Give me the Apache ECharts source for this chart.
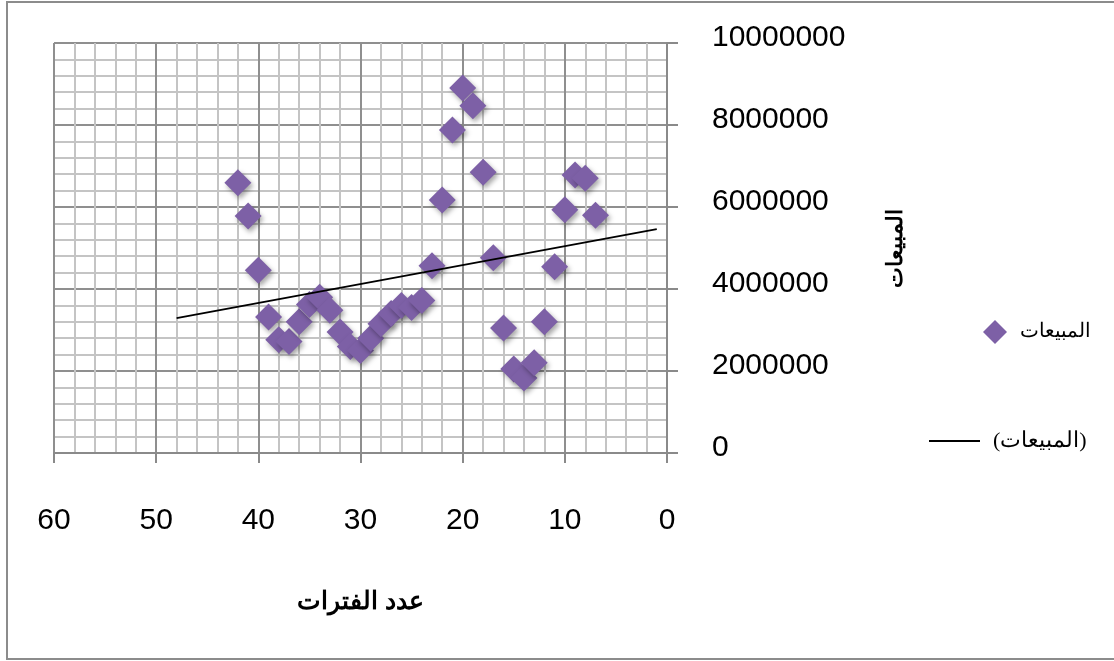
<!DOCTYPE html>
<html>
<head>
<meta charset="utf-8">
<script src="https://cdn.jsdelivr.net/npm/echarts@6/dist/echarts.min.js"></script>
<style>
  html, body { margin: 0; padding: 0; background: #ffffff; }
  #chart { width: 1114px; height: 661px; }
</style>
</head>
<body>
<div id="chart"></div>
<script>
// Sales per period (periods counted backwards on the horizontal axis)
const periods = [42, 41, 40, 39, 38, 37, 36, 35, 34, 33, 32, 31, 30, 29, 28, 27, 26, 25,
                 24, 23, 22, 21, 20, 19, 18, 17, 16, 15, 14, 13, 12, 11, 10, 9, 8, 7];
const sales = [6590000, 5780000, 4460000, 3320000, 2760000, 2720000, 3200000, 3620000, 3800000,
               3480000, 2950000, 2600000, 2500000, 2800000, 3150000, 3400000, 3600000, 3550000,
               3720000, 4570000, 6170000, 7880000, 8900000, 8470000, 6850000, 4760000, 3050000,
               2050000, 1830000, 2200000, 3200000, 4540000, 5930000, 6780000, 6700000, 5800000];

// Linear trend line end points
const trendPeriods = [48, 1];
const trendValues = [3290000, 5460000];

const xTicks = [0, 10, 20, 30, 40, 50, 60];
const yTicks = [0, 2000000, 4000000, 6000000, 8000000, 10000000];

const seriesName = 'المبيعات';
const trendName = '(المبيعات)';
const xTitle = 'عدد الفترات';
const yTitle = 'المبيعات';

const arabicFont = "'Liberation Serif', 'DejaVu Serif', serif";
const numFont = "'Liberation Sans Narrow', 'Liberation Sans', sans-serif";

const chart = echarts.init(document.getElementById('chart'), null, { renderer: 'canvas' });

const scatterData = periods.map((p, i) => [p, sales[i]]);
const trendData = trendPeriods.map((p, i) => [p, trendValues[i]]);

chart.setOption({
  animation: false,
  backgroundColor: '#ffffff',
  graphic: [{
    type: 'rect',
    shape: { x: 7, y: 2, width: 1130, height: 657 },
    style: { fill: 'none', stroke: '#8c8c8c', lineWidth: 2 },
    silent: true,
    z: -10
  }],
  grid: { left: 54, right: 447, top: 43, bottom: 208, containLabel: false },
  xAxis: {
    type: 'value',
    min: xTicks[0],
    max: xTicks[xTicks.length - 1],
    interval: 10,
    inverse: true,
    name: xTitle,
    nameLocation: 'middle',
    nameGap: 137,
    nameTextStyle: { fontFamily: arabicFont, fontSize: 25, fontWeight: 'bold', color: '#000' },
    axisLine: { show: true, onZero: false, lineStyle: { color: '#8a8a8a', width: 2 } },
    axisTick: { show: true, length: 10, lineStyle: { color: '#8a8a8a', width: 2 } },
    axisLabel: { margin: 53, fontFamily: numFont, fontSize: 30, color: '#000' },
    splitLine: { show: true, lineStyle: { color: '#8f8f8f', width: 2 } },
    minorTick: { show: false, splitNumber: 5 },
    minorSplitLine: { show: true, lineStyle: { color: '#c4c4c4', width: 2 } }
  },
  yAxis: {
    type: 'value',
    position: 'right',
    min: yTicks[0],
    max: yTicks[yTicks.length - 1],
    interval: 2000000,
    name: yTitle,
    nameLocation: 'middle',
    nameRotate: 90,
    nameGap: 218,
    nameTextStyle: { fontFamily: arabicFont, fontSize: 22, fontWeight: 'bold', color: '#000' },
    axisLine: { show: true, lineStyle: { color: '#8a8a8a', width: 2 } },
    axisTick: { show: true, length: 11, lineStyle: { color: '#8a8a8a', width: 2 } },
    axisLabel: {
      margin: 45, fontFamily: numFont, fontSize: 30, color: '#000',
      formatter: v => String(v),
      verticalAlign: 'bottom',
      lineHeight: 10
    },
    splitLine: { show: true, lineStyle: { color: '#8f8f8f', width: 2 } },
    minorTick: { show: false, splitNumber: 5 },
    minorSplitLine: { show: true, lineStyle: { color: '#c4c4c4', width: 2 } }
  },
  legend: [{
    data: [{ name: seriesName, icon: 'diamond' }],
    left: 983,
    top: 320,
    padding: 0,
    itemWidth: 24,
    itemHeight: 24,
    textStyle: { fontFamily: arabicFont, fontSize: 20, color: '#000', padding: [0, 0, 0, 8] }
  }, {
    data: [{ name: trendName, icon: 'rect' }],
    left: 929,
    top: 430,
    padding: 0,
    itemWidth: 51,
    itemHeight: 2,
    textStyle: { fontFamily: arabicFont, fontSize: 22, color: '#000', padding: [0, 0, 14, 8] }
  }],
  series: [{
    name: seriesName,
    type: 'scatter',
    data: scatterData,
    symbol: 'diamond',
    symbolSize: 27,
    itemStyle: {
      color: '#7d60a6',
      opacity: 1,
      shadowBlur: 5,
      shadowOffsetX: 2,
      shadowOffsetY: 3,
      shadowColor: 'rgba(0,0,0,0.35)'
    },
    z: 3
  }, {
    name: trendName,
    type: 'line',
    data: trendData,
    symbol: 'none',
    lineStyle: { color: '#000000', width: 2 },
    itemStyle: { color: '#000000' },
    z: 4
  }]
});
</script>
</body>
</html>
